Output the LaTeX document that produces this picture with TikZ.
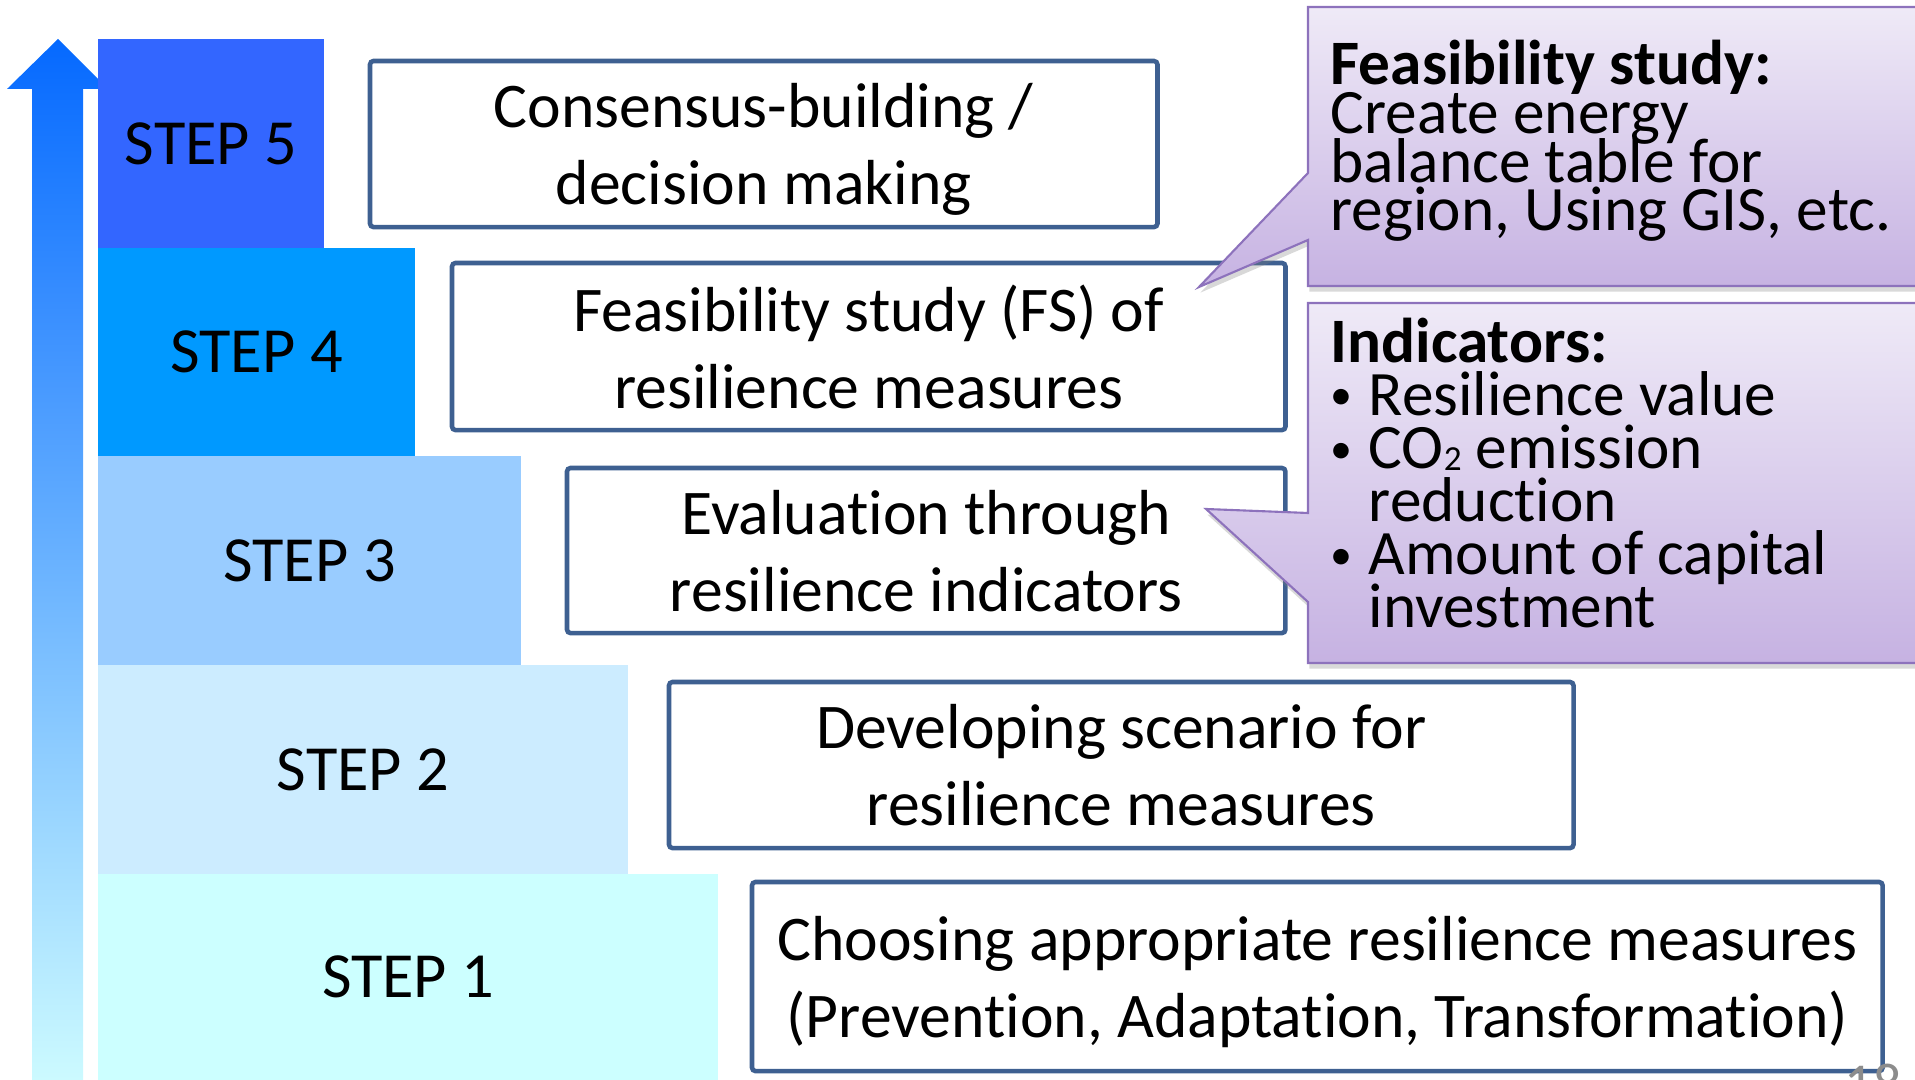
\documentclass[tikz,border=0pt]{standalone}
\usepackage{fontspec}
\setmainfont{Carlito}[Ligatures=NoCommon]
\usepackage{xcolor}
\usepackage{tikz}
\usetikzlibrary{positioning,shadows}

\definecolor{stepfive}{HTML}{3366FF}
\definecolor{stepfour}{HTML}{0099FF}
\definecolor{stepthree}{HTML}{99CCFF}
\definecolor{steptwo}{HTML}{CCECFF}
\definecolor{stepone}{HTML}{CCFFFF}
\definecolor{boxline}{RGB}{62,96,145}
\definecolor{arrowtop}{RGB}{5,105,255}
\definecolor{arrowmid}{RGB}{100,195,255}
\definecolor{arrowbot}{RGB}{204,250,255}
\definecolor{calltop}{HTML}{EFEAF7}
\definecolor{callbot}{HTML}{C6B2E2}
\definecolor{callline}{HTML}{8D72BC}
\definecolor{pagegray}{RGB}{140,140,140}
\newcommand{\itemdot}{\makebox[0.38cm][l]{\raisebox{1.6pt}{\fontsize{12.5}{12.5}\selectfont\textbullet}}}
\newcommand{\subtwo}{\raisebox{-0.5pt}{\fontsize{10}{10}\selectfont 2}}
\newcommand{\tightlines}{\lineskiplimit=-30pt\relax}

\begin{document}
\begin{tikzpicture}[
  x=0.01cm, y=-0.01cm,
  stepbox/.style={anchor=north west, inner sep=0pt, outer sep=0pt, font=\fontsize{18.3}{22}\selectfont},
  textbox/.style={draw=boxline, line width=1.3pt, rounded corners=1pt, fill=white, anchor=north west, inner sep=0pt, outer sep=0pt, align=center, text depth=0pt, font=\fontsize{18.1}{21.9}\selectfont},
  callout/.style={draw=callline, line width=0.6pt, top color=calltop, bottom color=callbot, drop shadow={shadow xshift=0.4pt, shadow yshift=-1.6pt, opacity=0.3}},
  calltext/.style={anchor=base west, inner sep=0pt, align=left, font=\fontsize{18}{13.9}\selectfont\tightlines}
]
\useasboundingbox (0,0) rectangle (1915,1080);
\shade[top color=arrowtop, middle color=arrowmid, bottom color=arrowbot] (32,1080) -- (32,89) -- (7,89) -- (58,39) -- (108,89) -- (83,89) -- (83,1080) -- cycle;
\node[stepbox, fill=stepfive, minimum width=2.26cm, minimum height=2.09cm] (s5) at (98,39) {STEP 5};
\node[stepbox, fill=stepfour, minimum width=3.17cm, minimum height=2.08cm] (s4) at (98,248) {STEP 4};
\node[stepbox, fill=stepthree, minimum width=4.23cm, minimum height=2.09cm] (s3) at (98,456) {STEP 3};
\node[stepbox, fill=steptwo, minimum width=5.30cm, minimum height=2.09cm] (s2) at (98,665) {STEP 2};
\node[stepbox, fill=stepone, minimum width=6.20cm, minimum height=2.06cm] (s1) at (98,874) {STEP 1};
\node[textbox, minimum width=7.87cm, minimum height=1.66cm] (b5) at (370,61) {Consensus-building /\\decision making};
\node[textbox, minimum width=8.33cm, minimum height=1.67cm] (b4) at (452,263) {Feasibility study (FS) of\\resilience measures};
\node[textbox, minimum width=7.18cm, minimum height=1.65cm] (b3) at (567,468) {Evaluation through\\resilience indicators};
\node[textbox, minimum width=9.04cm, minimum height=1.66cm] (b2) at (669,682) {Developing scenario for\\resilience measures};
\node[textbox, minimum width=11.30cm, minimum height=1.89cm] (b1) at (752,882) {Choosing appropriate resilience measures\\(Prevention, Adaptation, Transformation)};
\path[callout] (1308,7) -- (1940,7) -- (1940,286) -- (1308,286) -- (1308,240) -- (1199,287) -- (1308,173) -- cycle;
\path[callout] (1308,303) -- (1940,303) -- (1940,663) -- (1308,663) -- (1308,602) -- (1206,509) -- (1308,513) -- cycle;
\node[calltext] (fsnote) at (1330,231) {\textbf{Feasibility study:}\\Create energy\\balance table for\\region, Using GIS, etc.};
\node[calltext, font=\fontsize{18}{15.1}\selectfont\tightlines] (indnote) at (1330,628) {\textbf{Indicators:}\\\itemdot Resilience value\\\itemdot CO\subtwo{} emission\\\hspace*{0.38cm}reduction\\\itemdot Amount of capital\\\hspace*{0.38cm}investment};
\node[anchor=north, inner sep=0pt, text=pagegray, font=\fontsize{16}{16}\selectfont] (pageno) at (1873,1063) {18};
\end{tikzpicture}
\end{document}
